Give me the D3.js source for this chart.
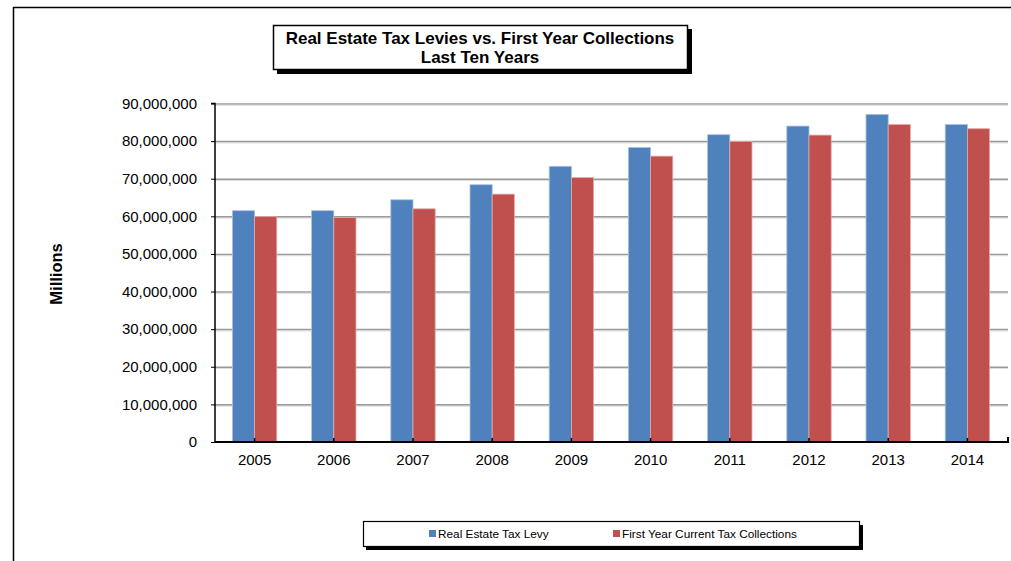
<!DOCTYPE html>
<html><head><meta charset="utf-8">
<script src="https://cdn.jsdelivr.net/npm/d3@7"></script>
<style>
body{margin:0;background:#fff;}
svg{display:block;font-family:"Liberation Sans",Arial,sans-serif;}
</style></head>
<body><svg id="c" width="1011" height="561"></svg>
<script>
const years = ["2005","2006","2007","2008","2009","2010","2011","2012","2013","2014"];
const levy = [61500000,61500000,64400000,68400000,73300000,78300000,81700000,84000000,87100000,84400000];
const collections = [59900000,59700000,62000000,65900000,70300000,76000000,79900000,81600000,84400000,83300000];
const seriesNames = ["Real Estate Tax Levy","First Year Current Tax Collections"];
const colors = ["#4F81BD","#C0504D"];
const yTicks = [0,10000000,20000000,30000000,40000000,50000000,60000000,70000000,80000000,90000000];
const titleLines = ["Real Estate Tax Levies vs. First Year Collections","Last Ten Years"];

const svg = d3.select("#c");
// outer border
svg.append("path").attr("d","M13.5,561 L13.5,7.5 L1011,7.5").attr("fill","none").attr("stroke","#000").attr("stroke-width",1.5);

const L=215, R=1007, T=103.5, B=442;
const x = d3.scaleBand().domain(years).range([L,R]).paddingInner(0.44).paddingOuter(0.22);
const x1 = d3.scaleBand().domain([0,1]).range([0,x.bandwidth()]);
const y = d3.scaleLinear().domain([0,90000000]).range([B,T]);

// gridlines
svg.append("g").selectAll("line").data(yTicks.filter(d=>d>0)).join("line")
  .attr("x1",L).attr("x2",1008).attr("y1",d=>y(d)+0.5).attr("y2",d=>y(d)+0.5)
  .attr("stroke","#9a9a9a").attr("stroke-width",1.6);
svg.append("g").selectAll("line").data(yTicks.filter(d=>d>0)).join("line")
  .attr("x1",L).attr("x2",1008).attr("y1",d=>y(d)+1.8).attr("y2",d=>y(d)+1.8)
  .attr("stroke","#dcdcdc").attr("stroke-width",1);

// bars
const data = years.map((yr,i)=>({yr, vals:[levy[i],collections[i]]}));
const g = svg.append("g").selectAll("g").data(data).join("g").attr("transform",d=>`translate(${x(d.yr)},0)`);
g.selectAll("rect").data(d=>d.vals.map((v,k)=>({v,k}))).join("rect")
  .attr("x",d=>x1(d.k)).attr("width",x1.bandwidth())
  .attr("y",d=>y(d.v)).attr("height",d=>B-y(d.v))
  .attr("fill",d=>colors[d.k])
  .attr("stroke",d=>d.k==0?"#a9c0e0":"#e4a9a7").attr("stroke-width",0.8);

// y axis
const ya = svg.append("g").attr("transform",`translate(${L},0)`)
  .call(d3.axisLeft(y).tickValues(yTicks).tickSize(4).tickPadding(14).tickFormat(d3.format(",")));
ya.select(".domain").attr("stroke","#000").attr("stroke-width",1.5).attr("d",`M-4,${T}H0V${B}`);
ya.selectAll(".tick line").attr("stroke","#000");
ya.selectAll(".tick text").attr("font-size","15px").attr("fill","#000").attr("font-family","Liberation Sans, Arial, sans-serif");

// x axis
const xa = svg.append("g").attr("transform",`translate(0,${B})`)
  .call(d3.axisBottom(x).tickSize(-4).tickPadding(12));
xa.select(".domain").attr("stroke","#000").attr("stroke-width",2).attr("d",`M${L},0H1008V-5`);
xa.selectAll(".tick line").attr("stroke","#000").attr("stroke-width",1.5);
xa.selectAll(".tick text").attr("font-size","15px").attr("fill","#000").attr("font-family","Liberation Sans, Arial, sans-serif");

// y label
svg.append("text").attr("transform","translate(62,274) rotate(-90)").attr("text-anchor","middle")
  .attr("font-size","16.5px").attr("font-weight","bold").text("Millions");

// title box
svg.append("rect").attr("x",277).attr("y",29).attr("width",415).attr("height",45).attr("fill","#000");
svg.append("rect").attr("x",273.5).attr("y",25.5).attr("width",414).attr("height",44).attr("fill","#fff").attr("stroke","#000").attr("stroke-width",1.5);
svg.selectAll("text.title").data(titleLines).join("text").attr("class","title")
  .attr("x",480).attr("y",(d,i)=>44+i*19).attr("text-anchor","middle")
  .attr("font-size","17px").attr("font-weight","bold").text(d=>d);

// legend
svg.append("rect").attr("x",366).attr("y",525).attr("width",497).attr("height",25).attr("fill","#000");
svg.append("rect").attr("x",363.5).attr("y",521.5).attr("width",496).attr("height",25).attr("fill","#fff").attr("stroke","#000").attr("stroke-width",1.2);
const lx=[429,613];
const lg = svg.selectAll("g.leg").data(seriesNames).join("g").attr("class","leg").attr("transform",(d,i)=>`translate(${lx[i]},530)`);
lg.append("rect").attr("width",7).attr("height",7).attr("fill",(d,i)=>colors[i]);
lg.append("text").attr("x",9).attr("y",7.8).attr("font-size","11.8px").text(d=>d);
</script></body></html>
